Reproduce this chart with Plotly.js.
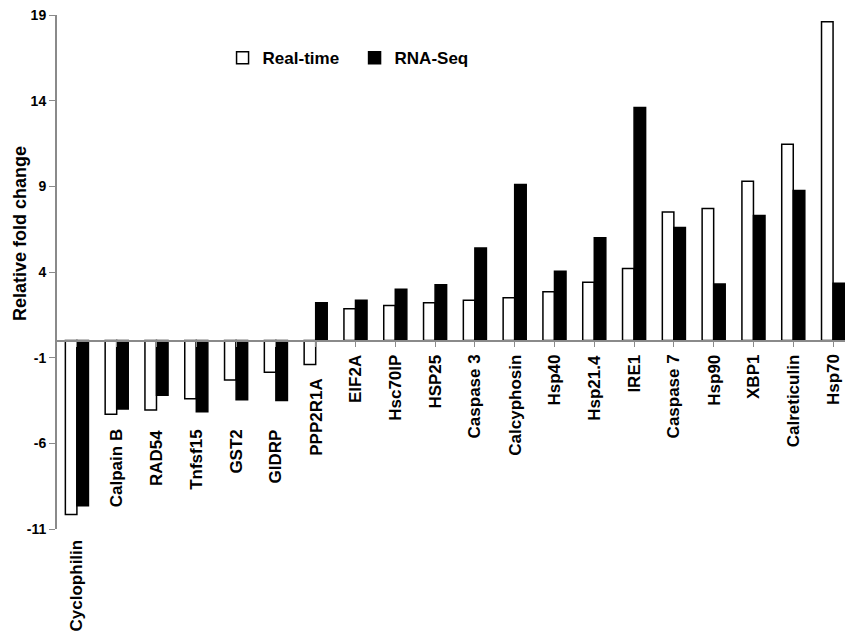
<!DOCTYPE html>
<html>
<head>
<meta charset="utf-8">
<script src="https://cdn.plot.ly/plotly-3.0.1.min.js"></script>
<style>html,body{margin:0;padding:0;background:#fff;}#chart{width:845px;height:636px;}</style>
</head>
<body>
<div id="chart"></div>
<script>
// ---- data ----
var genes = ["Cyclophilin","Calpain B","RAD54","Tnfsf15","GST2","GIDRP","PPP2R1A","EIF2A","Hsc70IP","HSP25","Caspase 3","Calcyphosin","Hsp40","Hsp21.4","IRE1","Caspase 7","Hsp90","XBP1","Calreticulin","Hsp70"];
var realTime = [-10.15,-4.3,-4.05,-3.4,-2.3,-1.85,-1.4,1.85,2.05,2.2,2.35,2.5,2.85,3.4,4.2,7.5,7.7,9.3,11.45,18.6];
var rnaSeq   = [-9.65,-4.0,-3.2,-4.15,-3.45,-3.5,2.2,2.35,3.0,3.25,5.4,9.1,4.05,6.0,13.6,6.6,3.3,7.3,8.75,3.35];
var yTicks = [-11,-6,-1,4,9,14,19];
var yTickText = ["-11","-6","-1","4","9","14","19"];

// ---- layout helpers (label placement in px below the zero line, not data) ----
var labelDrop = [197,87,87,87,87,87,36,12,12,12,12,12,12,12,12,12,12,12,12,12];

var FONT = "Liberation Sans, Arial, sans-serif";
var yMin = -11, yMax = 19;
var axisGray = "#8a8a8a";

var idx = genes.map(function(_, i){ return i; });

var traces = [
  {type:"bar", name:"Real-time", x: idx, y: realTime,
   marker:{color:"#ffffff", line:{color:"#000000", width:1.5}}},
  {type:"bar", name:"RNA-Seq", x: idx, y: rnaSeq,
   marker:{color:"#000000", line:{color:"#000000", width:1.5}}}
];

var annotations = genes.map(function(g, i){
  return {x: i, xref:"x", y: 0, yref:"y", yshift: -labelDrop[i], text: g, textangle:-90,
          xanchor:"center", yanchor:"top", showarrow:false,
          font:{family:FONT, size:17, color:"#000", weight:"bold"}};
});
annotations.push({x: 0, xref:"paper", xshift:-37, y: 0.574, yref:"paper", text:"Relative fold change",
  textangle:-90, showarrow:false, xanchor:"center", yanchor:"middle",
  font:{family:FONT, size:18, color:"#000", weight:"bold"}});

var layout = {
  width:845, height:636,
  margin:{l:57, r:0, t:15, b:107},
  paper_bgcolor:"#fff", plot_bgcolor:"#fff",
  barmode:"group", bargap:0.42, bargroupgap:0,
  showlegend:true,
  legend:{orientation:"h", xref:"paper", yref:"paper", x:0.2101, y:0.916,
          xanchor:"left", yanchor:"middle", bgcolor:"rgba(0,0,0,0)",
          entrywidthmode:"pixels", entrywidth:87,
          font:{family:FONT, size:17, color:"#000", weight:"bold"}},
  xaxis:{range:[-0.5, 19.3], tickvals: idx, showticklabels:false, tickson:"boundaries",
         ticks:"outside", ticklen:5, tickcolor:axisGray, tickwidth:1, showline:true,
         linecolor:axisGray, linewidth:2, showgrid:false, zeroline:false, anchor:"free",
         position:(0 - yMin)/(yMax - yMin), fixedrange:true},
  yaxis:{range:[yMin, yMax], tickvals: yTicks, ticktext: yTickText, ticks:"outside", ticklen:6,
         tickcolor:axisGray, tickwidth:1, showline:true, linecolor:axisGray, linewidth:2,
         showgrid:false, zeroline:false,
         tickfont:{family:FONT, size:14, color:"#000", weight:"bold"}, fixedrange:true},
  annotations: annotations
};

Plotly.newPlot("chart", traces, layout, {displayModeBar:false, staticPlot:true});
</script>
</body>
</html>
